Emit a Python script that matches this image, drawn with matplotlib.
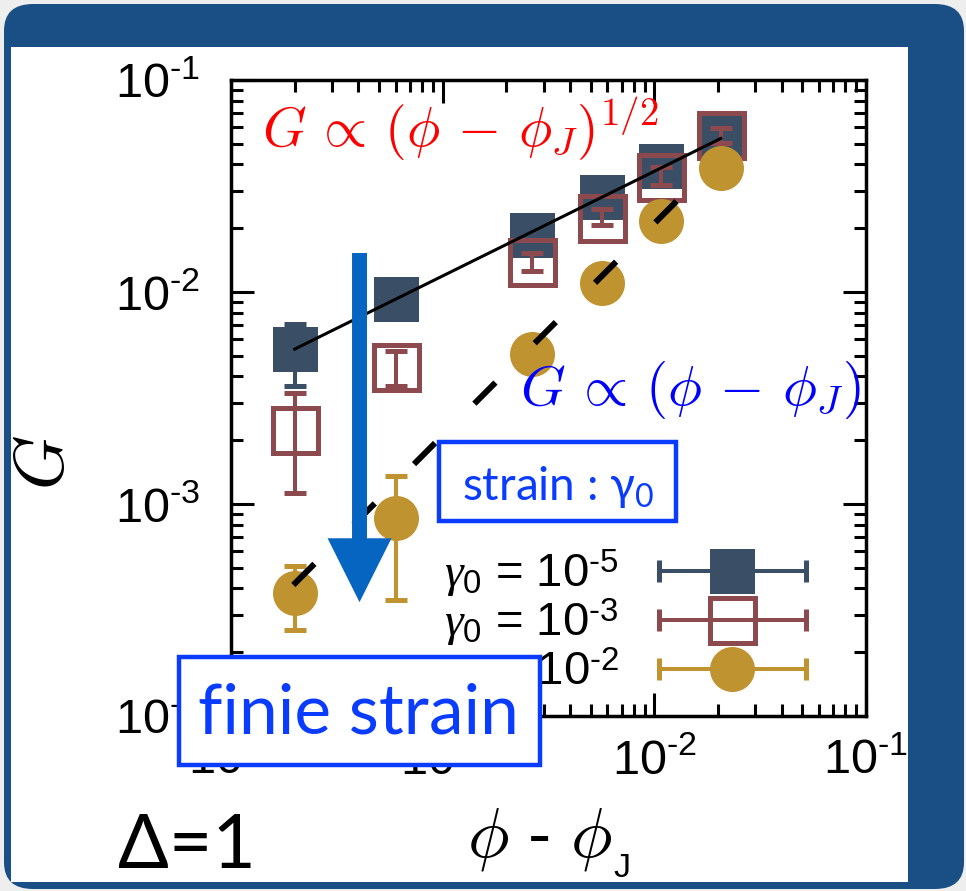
import numpy as np
import matplotlib
matplotlib.use('Agg')
import matplotlib.pyplot as plt
import matplotlib.patches as mpatches
from matplotlib.font_manager import FontProperties
from matplotlib.container import ErrorbarContainer
from matplotlib.legend_handler import HandlerErrorbar

# data
phi = [2.0e-4, 6.0e-4, 2.63e-3, 5.64e-3, 1.07e-2, 2.06e-2]

G_1e5 = [5.38e-3, 9.25e-3, 1.85e-2, 2.82e-2, 3.95e-2, 5.34e-2]
G_1e5_hi = [7.05e-3, 1.00e-2, 2.0e-2, 3.0e-2, 4.2e-2, 5.7e-2]
G_1e5_lo = [3.61e-3, 8.5e-3, 1.7e-2, 2.65e-2, 3.7e-2, 5.0e-2]

G_1e3 = [2.24e-3, 4.43e-3, 1.39e-2, 2.24e-2, 3.50e-2, 5.51e-2]
G_1e3_hi = [3.34e-3, 5.26e-3, 1.52e-2, 2.45e-2, 3.90e-2, 5.95e-2]
G_1e3_lo = [1.13e-3, 3.61e-3, 1.26e-2, 2.06e-2, 3.18e-2, 5.06e-2]

G_1e2 = [3.79e-4, 8.63e-4, 5.09e-3, 1.10e-2, 2.17e-2, 3.86e-2]
G_1e2_hi = [5.08e-4, 1.36e-3, 5.5e-3, 1.2e-2, 2.35e-2, 4.1e-2]
G_1e2_lo = [2.54e-4, 3.52e-4, 4.7e-3, 1.0e-2, 2.0e-2, 3.6e-2]

# guide lines (end points)
half_x = [2.0e-4, 2.06e-2]
half_y = [5.38e-3, 5.3e-2]
lin_x = [1.97e-4, 1.33e-2]
lin_y = [4.15e-4, 2.8e-2]

HY = '\u2010'  # short hyphen, as in the picture
ticks = [1e-4, 1e-3, 1e-2, 1e-1]
tick_labels = [r'$\mathdefault{10^{%s%d}}$' % (HY, e) for e in [4, 3, 2, 1]]
labels = [r'$\gamma_0$ = 10$^{%s5}$' % HY, r'$\gamma_0$ = 10$^{%s3}$' % HY,
          r'$\gamma_0$ = 10$^{%s2}$' % HY]

c_dark = '#3a4f66'
c_brown = '#8c4a4f'
c_gold = '#c09331'
c_box = '#0a3cff'
c_frame = '#1a4f86'

plt.rcParams['font.family'] = ['Liberation Sans', 'DejaVu Sans']
plt.rcParams['mathtext.rm'] = 'Liberation Sans'
plt.rcParams['mathtext.it'] = 'Liberation Serif:italic'
plt.rcParams['mathtext.bf'] = 'Liberation Sans:bold'
plt.rcParams['mathtext.sf'] = 'Liberation Sans'

W, H = 966, 891


def fx(px):
    return px / W


def fy(py):
    return 1 - py / H


fig = plt.figure(figsize=(W / 100, H / 100), dpi=100, facecolor='#eeeeee')

# slide frame
frame = mpatches.FancyBboxPatch((fx(4), fy(889)), fx(960), (889 - 4) / H,
                                boxstyle='round,pad=0,rounding_size=0.03',
                                transform=fig.transFigure, fc=c_frame, ec='none', zorder=-3)
fig.add_artist(frame)
panel = mpatches.Rectangle((fx(11), fy(882)), fx(897), (882 - 47) / H,
                           transform=fig.transFigure, fc='white', ec='none', zorder=-2)
fig.add_artist(panel)

ax = fig.add_axes([fx(231), fy(716), (866 - 231) / W, (716 - 80) / H])
ax.set_facecolor('white')

ebkw = dict(elinewidth=2.9, capsize=8, capthick=3.6, mew=3.6, linestyle='none')


def yerr(v, hi, lo):
    v = np.array(v)
    return [v - np.array(lo), np.array(hi) - v]


ax.errorbar(phi, G_1e5, yerr=yerr(G_1e5, G_1e5_hi, G_1e5_lo), fmt='s', ms=29.4,
            mfc=c_dark, mec=c_dark, ecolor=c_dark, zorder=3, **ebkw)
ax.errorbar(phi, G_1e3, yerr=yerr(G_1e3, G_1e3_hi, G_1e3_lo), fmt='s', ms=32.4,
            mfc='none', mec=c_brown, ecolor=c_brown, zorder=4, **ebkw)
ax.errorbar(phi, G_1e2, yerr=yerr(G_1e2, G_1e2_hi, G_1e2_lo), fmt='o', ms=28.8,
            mfc=c_gold, mec=c_gold, ecolor=c_gold, zorder=5, **ebkw)

ax.plot(half_x, half_y, color='black', lw=2.2, zorder=6)
ax.plot(lin_x, lin_y, color='black', lw=4.3, linestyle=(0, (5, 9.3)), zorder=6)

# legend proxies with horizontal bars
proxies = []
for fmt, ms, fc, col, lab in [('s', 29.4, c_dark, c_dark, labels[0]),
                              ('s', 32.4, 'none', c_brown, labels[1]),
                              ('o', 28.8, c_gold, c_gold, labels[2])]:
    h = ax.errorbar([np.nan], [np.nan], xerr=[np.nan], fmt=fmt, ms=ms, mfc=fc, mec=col,
                    ecolor=col, label=lab, **ebkw)
    proxies.append(h)

leg = ax.legend(handles=proxies, loc='lower right', bbox_to_anchor=(fx(808), fy(698)),
                bbox_transform=fig.transFigure, frameon=False, markerfirst=False,
                numpoints=1, handlelength=3.2, handletextpad=0.8, labelspacing=-0.07,
                borderpad=0, borderaxespad=0,
                prop=FontProperties(family='Liberation Sans', size=34, math_fontfamily='custom'),
                handler_map={ErrorbarContainer: HandlerErrorbar(xerr_size=1.55)})

ax.set_xscale('log')
ax.set_yscale('log')
ax.set_xlim(1e-4, 1e-1)
ax.set_ylim(1e-4, 1e-1)
ax.set_xticks(ticks, tick_labels)
ax.set_yticks(ticks, tick_labels)

for s in ax.spines.values():
    s.set_linewidth(2.5)
ax.tick_params(which='both', direction='in', top=True, right=True, width=2.2, labelsize=35)
ax.tick_params(which='major', length=16.5)
ax.tick_params(which='minor', length=8.6)
ax.tick_params(axis='y', which='major', pad=22)
ax.tick_params(axis='x', which='major', pad=16)

ax.set_xlabel(r'$\phi$ - $\phi_{_\mathregular{J}}$', fontsize=50, math_fontfamily='cm', labelpad=16)
ax.set_ylabel(r'$G$', fontsize=50, math_fontfamily='cm')
ax.yaxis.set_label_coords(-0.2425, 0.398)

# arrow
arr = mpatches.FancyArrowPatch((0.2024, 0.728), (0.2024, 0.179), transform=ax.transAxes,
                               arrowstyle=mpatches.ArrowStyle.Simple(head_length=46, head_width=46, tail_width=10.8),
                               mutation_scale=1, shrinkA=0, shrinkB=0, color='#0565c0', lw=0, zorder=7)
ax.add_patch(arr)

fig.text(fx(262), fy(147), r'$G\,\propto\,(\phi\,-\,\phi_J)^{1/2}$', color='red', fontsize=40,
         math_fontfamily='cm', ha='left', va='baseline', zorder=8)
fig.text(fx(520), fy(405), r'$G\,\propto\,(\phi\,-\,\phi_J)$', color='#0000ff', fontsize=41,
         math_fontfamily='cm', ha='left', va='baseline', zorder=8)

# boxes
box_font = ['Lato', 'DejaVu Sans']
b1 = mpatches.Rectangle((fx(439), fy(521)), (676 - 439) / W, (521 - 442) / H, transform=fig.transFigure,
                        fc='white', ec=c_box, lw=3.2, zorder=10)
fig.add_artist(b1)
fig.text(fx(558), fy(500), r'strain : $\mathregular{\gamma_0}$', color=c_box, fontsize=33,
         family=box_font, ha='center', va='baseline', zorder=11)

b2 = mpatches.Rectangle((fx(179), fy(765)), (540 - 179) / W, (765 - 657) / H, transform=fig.transFigure,
                        fc='white', ec=c_box, lw=3.2, zorder=10)
fig.add_artist(b2)
fig.text(fx(358), fy(733), 'finie strain', color=c_box, fontsize=50,
         family=box_font, ha='center', va='baseline', zorder=11)

fig.text(fx(118), fy(868), '\u0394=1', color='black', fontsize=54, family=box_font,
         fontweight='normal', ha='left', va='baseline')

fig.savefig('out.png', dpi=100, facecolor=fig.get_facecolor())
